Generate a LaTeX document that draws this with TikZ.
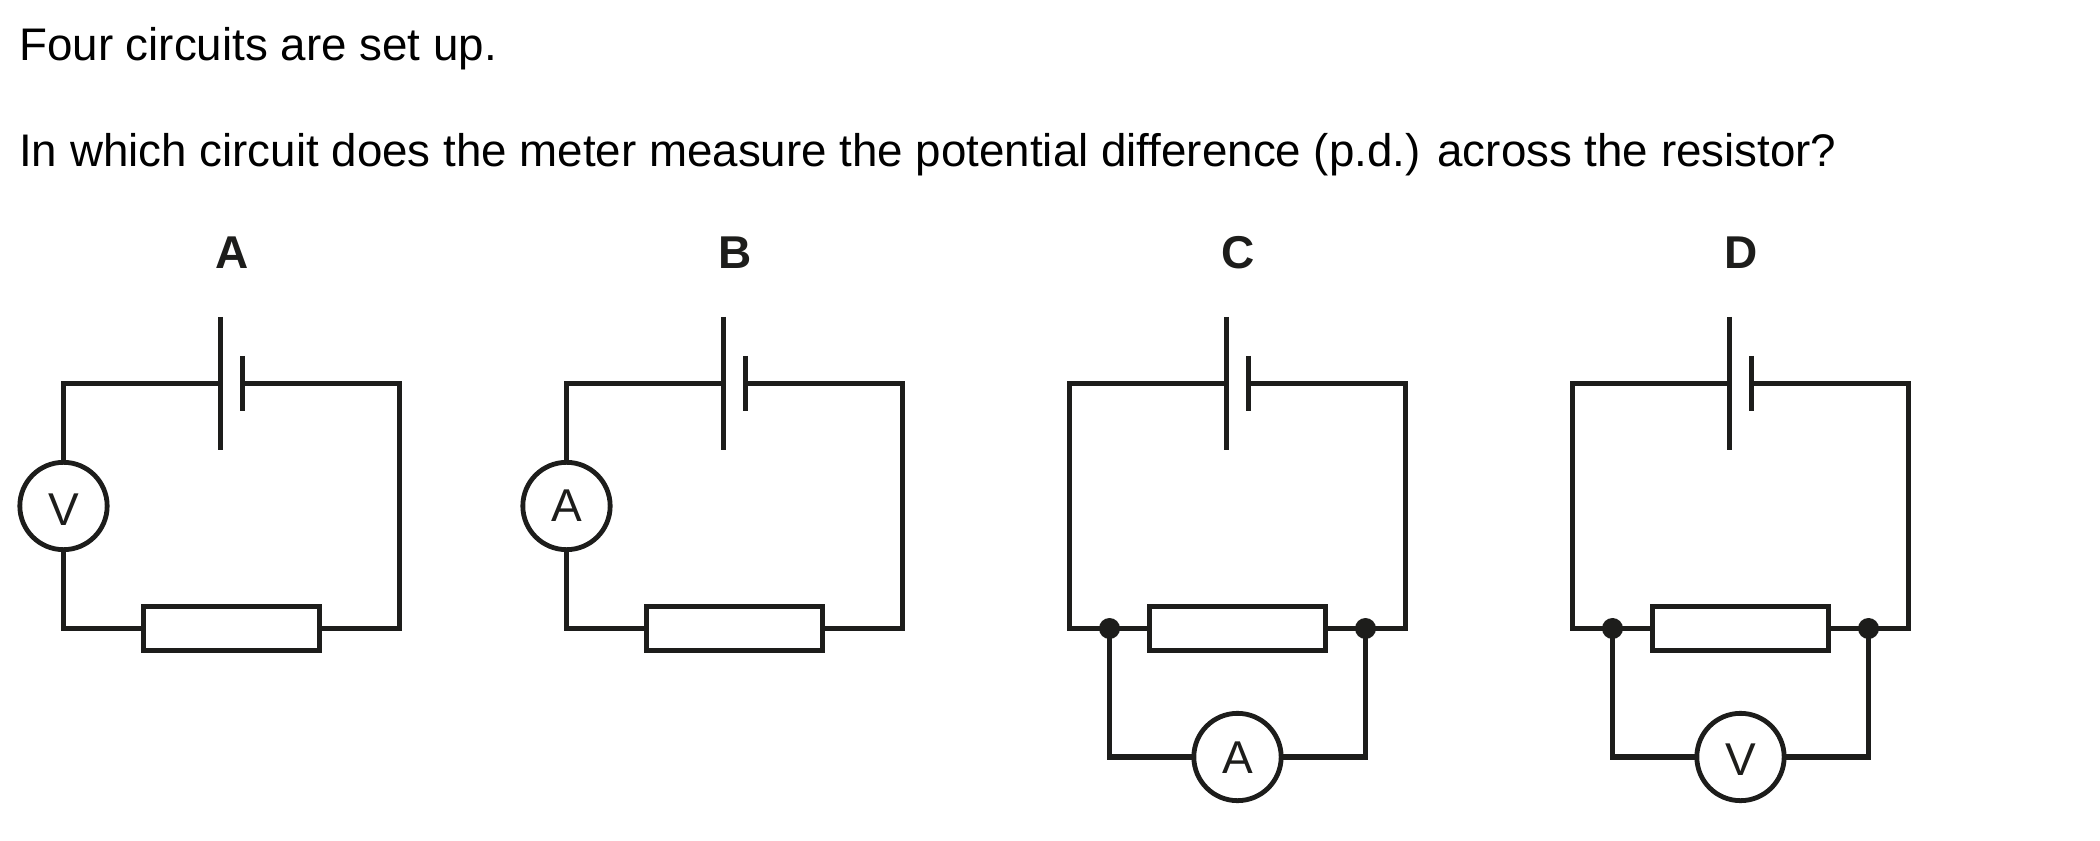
\documentclass[tikz,border=0pt]{standalone}
\usepackage{fontspec}
\setmainfont{Liberation Sans}
\definecolor{ink}{HTML}{1D1D1B}
\tikzset{
  x=0.75pt, y=-0.75pt,
  wire/.style={draw=ink, line width=3.85pt},
  resistorbox/.style={rectangle, draw=ink, fill=white, line width=3.85pt, minimum width=132pt, minimum height=33pt, inner sep=0pt, outer sep=0pt},
  meterbox/.style={circle, draw=ink, fill=white, line width=3.6pt, minimum size=65.5pt, inner sep=0pt, outer sep=0pt},
  junction/.style={circle, fill=ink, minimum size=15.75pt, inner sep=0pt, outer sep=0pt},
  question/.style={anchor=base west, inner sep=0pt, text=black, font=\fontsize{34.28}{40}\selectfont},
  heading/.style={anchor=base, inner sep=0pt, text=ink, font=\bfseries\fontsize{34.5}{40}\selectfont},
  meterletter/.style={anchor=base, inner sep=0pt, text=ink, font=\fontsize{34.5}{40}\selectfont},
}
% #1 name, #2 centre x : label, cell, resistor and outer corners
\newcommand{\framework}[2]{%
  \node[heading] (#1-label) at ({#2+1},269) {#1};
  \coordinate (#1-long-top) at ({#2-11},317);
  \coordinate (#1-long-bot) at ({#2-11},450);
  \coordinate (#1-long-mid) at ({#2-11},383.5);
  \coordinate (#1-short-top) at ({#2+11},356);
  \coordinate (#1-short-bot) at ({#2+11},411);
  \coordinate (#1-short-mid) at ({#2+11},383.5);
  \coordinate (#1-tl) at ({#2-168},383.5);
  \coordinate (#1-tr) at ({#2+168},383.5);
  \coordinate (#1-bl) at ({#2-168},628.5);
  \coordinate (#1-br) at ({#2+168},628.5);
  \node[resistorbox] (#1-res) at (#2,628.5) {};
  \draw[wire] (#1-long-top) -- (#1-long-bot);
  \draw[wire] (#1-short-top) -- (#1-short-bot);
  \draw[wire] (#1-short-mid) -- (#1-tr) -- (#1-br) -- (#1-res.east);
}
% series meter in the left arm: #1 name, #2 centre x, #3 letter, #4 baseline y
\newcommand{\seriescircuit}[4]{%
  \framework{#1}{#2}
  \node[meterbox] (#1-meter) at ({#2-168},506) {};
  \node[meterletter] (#1-letter) at ({#2-168},#4) {#3};
  \draw[wire] (#1-meter.north) -- (#1-tl) -- (#1-long-mid);
  \draw[wire] (#1-meter.south) -- (#1-bl) -- (#1-res.west);
}
% parallel meter under the resistor
\newcommand{\parallelcircuit}[4]{%
  \framework{#1}{#2}
  \node[junction] (#1-jl) at ({#2-128},628.5) {};
  \node[junction] (#1-jr) at ({#2+128},628.5) {};
  \node[meterbox] (#1-meter) at (#2,757) {};
  \node[meterletter] (#1-letter) at (#2,#4) {#3};
  \coordinate (#1-ml) at ({#2-128},757);
  \coordinate (#1-mr) at ({#2+128},757);
  \draw[wire] (#1-long-mid) -- (#1-tl) -- (#1-bl) -- (#1-res.west);
  \draw[wire] (#1-jl.center) -- (#1-ml) -- (#1-meter.west);
  \draw[wire] (#1-jr.center) -- (#1-mr) -- (#1-meter.east);
}
\begin{document}
\begin{tikzpicture}
\useasboundingbox (0,0) rectangle (2100,841);
\fill[white] (0,0) rectangle (2100,841);
\node[question] (q1) at (19,60.5) {Four circuits are set up.};
\node[question] (q2) at (19,166.2) {In which circuit does the meter measure the potential difference (p.d.) across the resistor?};
\seriescircuit{A}{231.5}{V}{525}
\seriescircuit{B}{734.5}{A}{522}
\parallelcircuit{C}{1237.5}{A}{773}
\parallelcircuit{D}{1740.5}{V}{775.7}
\end{tikzpicture}
\end{document}
